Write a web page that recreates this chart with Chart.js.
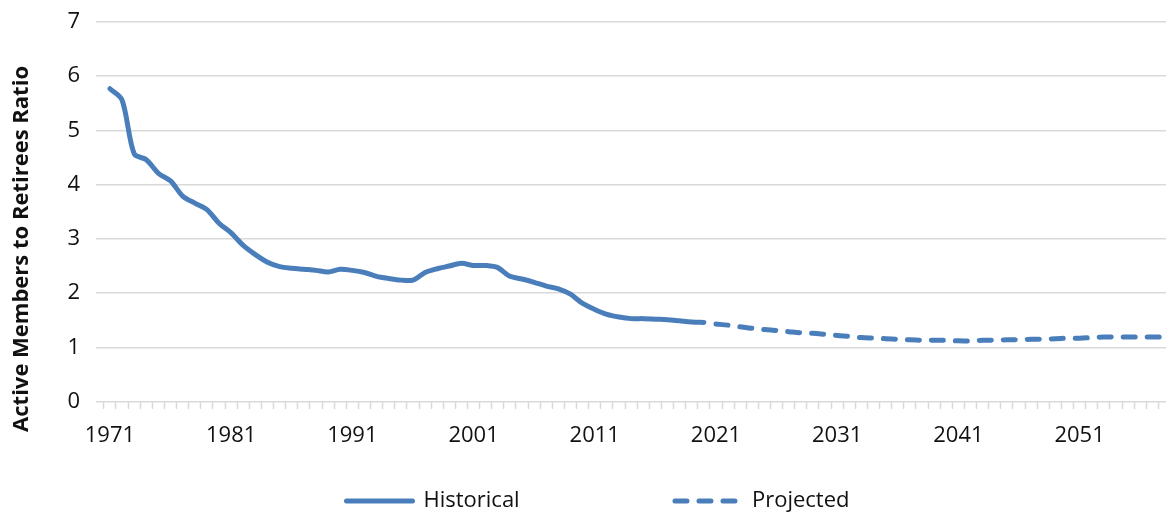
<!DOCTYPE html>
<html>
<head>
<meta charset="utf-8">
<script src="https://cdn.jsdelivr.net/npm/chart.js@4.4.1/dist/chart.umd.min.js"></script>
<style>
  html, body { margin: 0; padding: 0; background: #fff; }
  #wrap { width: 1166px; height: 514px; }
</style>
</head>
<body>
<div id="wrap"><canvas id="myChart"></canvas></div>
<script>
// ratio of active members to retirees
const histYears = [
  1971, 1972, 1973, 1974, 1975, 1976, 1977, 1978, 1979, 1980,
  1981, 1982, 1983, 1984, 1985, 1986, 1987, 1988, 1989, 1990,
  1991, 1992, 1993, 1994, 1995, 1996, 1997, 1998, 1999, 2000,
  2001, 2002, 2003, 2004, 2005, 2006, 2007, 2008, 2009, 2010,
  2011, 2012, 2013, 2014, 2015, 2016, 2017, 2018, 2019, 2020
];
const histValues = [
  5.77, 5.56, 4.57, 4.46, 4.21, 4.07, 3.79, 3.66, 3.54, 3.29,
  3.11, 2.88, 2.71, 2.57, 2.49, 2.46, 2.44, 2.42, 2.39, 2.44,
  2.42, 2.38, 2.31, 2.27, 2.24, 2.24, 2.38, 2.45, 2.50, 2.55,
  2.51, 2.51, 2.47, 2.31, 2.26, 2.20, 2.13, 2.08, 1.98, 1.81,
  1.70, 1.61, 1.56, 1.53, 1.53, 1.52, 1.51, 1.49, 1.47, 1.46
];
const projYears = [
  2021, 2022, 2023, 2024, 2025, 2026, 2027, 2028, 2029, 2030,
  2031, 2032, 2033, 2034, 2035, 2036, 2037, 2038, 2039, 2040,
  2041, 2042, 2043, 2044, 2045, 2046, 2047, 2048, 2049, 2050,
  2051, 2052, 2053, 2054, 2055, 2056, 2057, 2058
];
const projValues = [
  1.43, 1.41, 1.38, 1.35, 1.33, 1.31, 1.29, 1.27, 1.26, 1.24,
  1.22, 1.20, 1.18, 1.17, 1.16, 1.15, 1.14, 1.13, 1.13, 1.13,
  1.12, 1.12, 1.13, 1.13, 1.14, 1.14, 1.15, 1.15, 1.16, 1.17,
  1.17, 1.18, 1.19, 1.19, 1.19, 1.19, 1.19, 1.19
];
const yearLabels = [1971, 1981, 1991, 2001, 2011, 2021, 2031, 2041, 2051];

const blue = '#4a7ebb';
const gridGrey = '#d9d9d9';
const nbsp = '\u00a0';
const clear = 'rgba(0,0,0,0)';

Chart.defaults.font.family = "'Open Sans', 'Liberation Sans', sans-serif";
Chart.defaults.color = '#111';

// legend sits a little right of the canvas centre in the original
const nudgeLegend = {
  id: 'nudgeLegend',
  afterLayout(chart) {
    chart.legend.left += 15;
    chart.legend.right += 15;
  }
};

const data = {
  datasets: [
    {
      label: 'Historical',
      data: histYears.map((y, i) => ({ x: y, y: histValues[i] })),
      borderColor: blue,
      backgroundColor: blue,
      borderWidth: 5,
      borderCapStyle: 'round',
      borderJoinStyle: 'round',
      pointRadius: 0,
      tension: 0.3
    },
    {
      label: 'Projected',
      data: projYears.map((y, i) => ({ x: y, y: projValues[i] })),
      borderColor: blue,
      backgroundColor: blue,
      borderWidth: 5,
      borderDash: [12, 12],
      borderCapStyle: 'round',
      borderJoinStyle: 'round',
      pointRadius: 0,
      tension: 0.3
    }
  ]
};

const config = {
  type: 'line',
  data: data,
  plugins: [nudgeLegend],
  options: {
    responsive: true,
    maintainAspectRatio: false,
    animation: false,
    events: [],
    layout: { padding: { top: 22, right: 0, bottom: 0, left: 0 } },
    plugins: {
      tooltip: { enabled: false },
      legend: {
        position: 'bottom',
        maxHeight: 65,
        labels: {
          usePointStyle: true,
          pointStyle: 'line',
          pointStyleWidth: 66,
          padding: 41,
          font: { size: 22 },
          color: '#111',
          generateLabels: chart => {
            const items = Chart.defaults.plugins.legend.labels.generateLabels(chart);
            // wide gap between the two entries
            items[0].text += nbsp.repeat(20);
            items.forEach(it => { it.lineCap = 'round'; it.lineWidth = 5; });
            items[1].lineDash = [12, 12];
            return items;
          }
        }
      }
    },
    scales: {
      x: {
        type: 'linear',
        min: 1969.85,
        max: 2058.13,
        border: { display: false },
        grid: {
          drawOnChartArea: false,
          drawTicks: true,
          tickLength: 21,
          tickWidth: 1.5,
          tickBorderDash: [7, 60],
          tickColor: c => (c.tick && c.tick.value % 1 !== 0) ? gridGrey : clear
        },
        afterBuildTicks: scale => {
          const t = [];
          for (let v = 1970.5; v < 2058; v += 1) t.push({ value: v });
          yearLabels.forEach(v => t.push({ value: v }));
          t.sort((a, b) => a.value - b.value);
          scale.ticks = t;
        },
        ticks: {
          autoSkip: false,
          maxRotation: 0,
          minRotation: 0,
          padding: 0,
          font: { size: 22 },
          callback: v => yearLabels.includes(v) ? String(v) : ''
        }
      },
      y: {
        min: 0,
        max: 7,
        border: { display: false },
        grid: { color: gridGrey, lineWidth: 1.5, drawTicks: true, tickLength: 16, tickColor: clear },
        ticks: { stepSize: 1, padding: 0, font: { size: 22 } },
        title: {
          display: true,
          text: 'Active Members to Retirees Ratio' + nbsp.repeat(13),
          font: { size: 22, weight: 'bold' },
          padding: { top: 9, bottom: 0 }
        },
        afterFit: s => { s.width = 96; }
      }
    }
  }
};

var myChart = new Chart(
  document.getElementById('myChart'),
  config
);
</script>
</body>
</html>
